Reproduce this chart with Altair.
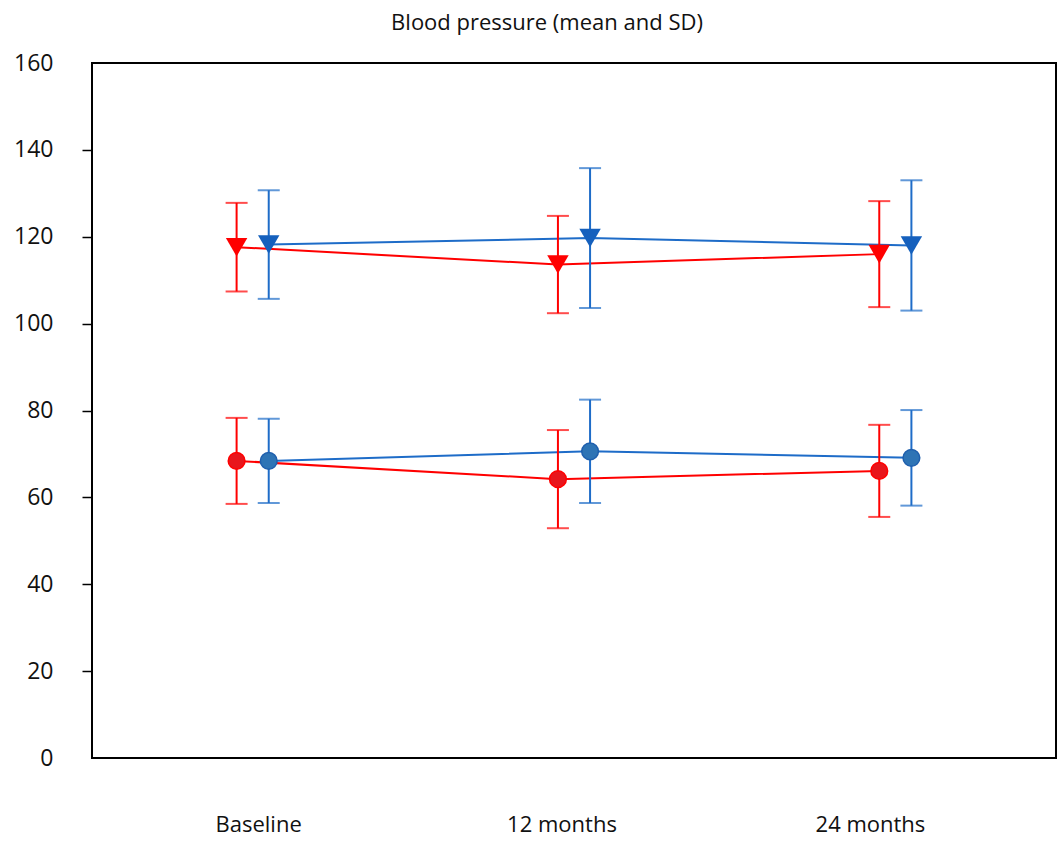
import altair as alt
import pandas as pd

times = ["Baseline", "12 months", "24 months"]
groups = ["Red", "Blue"]

# Systolic (triangles)
sys_red_mean = [117.6, 113.6, 116.0]
sys_red_sd = [10.2, 11.2, 12.2]
sys_blue_mean = [118.2, 119.7, 118.0]
sys_blue_sd = [12.5, 16.1, 15.0]

# Diastolic (circles)
dia_red_mean = [68.4, 64.2, 66.1]
dia_red_sd = [9.9, 11.3, 10.6]
dia_blue_mean = [68.4, 70.6, 69.1]
dia_blue_sd = [9.7, 11.9, 11.0]

label_pos = [0.517, 1.461, 2.421]

rows = []
for g, means, sds, meas in [
    ("Red", sys_red_mean, sys_red_sd, "Systolic"),
    ("Blue", sys_blue_mean, sys_blue_sd, "Systolic"),
    ("Red", dia_red_mean, dia_red_sd, "Diastolic"),
    ("Blue", dia_blue_mean, dia_blue_sd, "Diastolic"),
]:
    for i, t in enumerate(times):
        rows.append({"group": g, "measure": meas, "time": t, "idx": i,
                     "mean": means[i], "sd": sds[i]})
df = pd.DataFrame(rows)

line_colors = {"Red": "#FF0000", "Blue": "#1E6CC8"}

base = alt.Chart(df).transform_calculate(
    xpos="datum.idx + 0.5 + (datum.group == 'Red' ? -0.05 : 0.05)",
    lo="datum.mean - datum.sd",
    hi="datum.mean + datum.sd",
    series="datum.group + '-' + datum.measure",
)

xscale = alt.Scale(domain=[0, 3], nice=False, zero=False)
yscale = alt.Scale(domain=[0, 160], nice=False)

xenc = alt.X("xpos:Q", scale=xscale, title=None,
             axis=alt.Axis(values=label_pos, grid=False, domain=False, ticks=False,
                           labelExpr="datum.value < 1 ? 'Baseline' : (datum.value < 2 ? '12 months' : '24 months')",
                           labelPadding=56, labelFontSize=22, labelFont="Open Sans",
                           labelColor="#111111", labelFlush=False))
yenc = alt.Y("mean:Q", scale=yscale, title=None,
             axis=alt.Axis(values=[0, 20, 40, 60, 80, 100, 120, 140, 160], grid=False,
                           domain=False, tickSize=10, tickWidth=1.5, tickColor="#000000",
                           tickOpacity={"condition": {"test": "datum.value == 0 || datum.value == 160", "value": 0}, "value": 1},
                           labelPadding=29, labelFontSize=23, labelFont="Open Sans",
                           labelColor="#111111"))

color = alt.Color("group:N", scale=alt.Scale(domain=groups, range=[line_colors["Red"], line_colors["Blue"]]), legend=None)

lines = base.mark_line(strokeWidth=2).encode(
    x=xenc, y=yenc, color=color, detail="series:N", order="idx:Q")

rules = base.mark_rule(strokeWidth=2).encode(
    x="xpos:Q", y="lo:Q", y2="hi:Q", color=color)

caps_hi = base.mark_tick(orient="horizontal", size=22, thickness=2).encode(
    x="xpos:Q", y="hi:Q", color=color)
caps_lo = base.mark_tick(orient="horizontal", size=22, thickness=2).encode(
    x="xpos:Q", y="lo:Q", color=color)

tri = base.transform_filter("datum.measure == 'Systolic'").mark_point(
    shape="triangle-down", size=460, filled=True, opacity=1).encode(
    x="xpos:Q", y="mean:Q",
    color=alt.Color("group:N", scale=alt.Scale(domain=groups, range=["#FF0000", "#1560BD"]), legend=None))

circ = base.transform_filter("datum.measure == 'Diastolic'").mark_point(
    shape="circle", size=280, filled=True, opacity=1, strokeWidth=1.5).encode(
    x="xpos:Q", y="mean:Q",
    fill=alt.Fill("group:N", scale=alt.Scale(domain=groups, range=["#E8161C", "#2E74B5"]), legend=None),
    stroke=alt.Stroke("group:N", scale=alt.Scale(domain=groups, range=["#FF0000", "#1F5FAD"]), legend=None))

chart = alt.layer(lines, rules, caps_hi, caps_lo, tri, circ).resolve_scale(
    color="independent"
).properties(
    width=964, height=695,
    background="white",
    title=alt.TitleParams("Blood pressure (mean and SD)", fontSize=22, font="Open Sans",
                          fontWeight="normal", color="#111111", offset=17, dx=-27),
    autosize=alt.AutoSizeParams(type="none"),
    padding={"left": 92, "top": 63, "right": 2, "bottom": 84},
).configure_view(stroke="#000000", strokeWidth=2)

chart.save("out.html", embed_options={"renderer": "svg", "actions": False})
